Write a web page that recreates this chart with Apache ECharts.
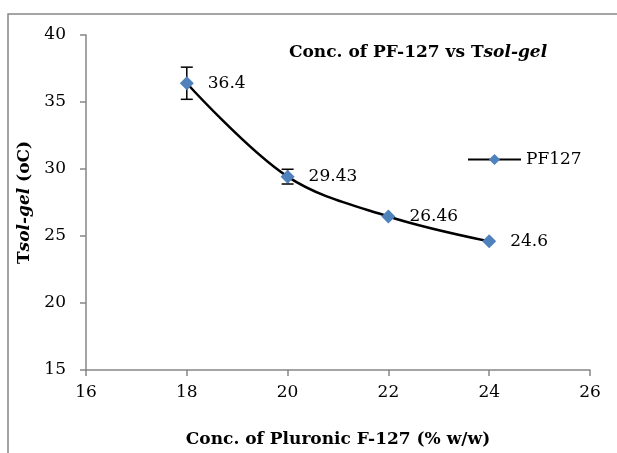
<!DOCTYPE html>
<html>
<head>
<meta charset="utf-8">
<script src="https://cdn.jsdelivr.net/npm/echarts@6/dist/echarts.min.js"></script>
<style>
  html, body { margin: 0; padding: 0; background: #fff; }
  #chart { width: 617px; height: 453px; }
</style>
</head>
<body>
<div id="chart"></div>
<script>
// data
var concs = [18, 20, 22, 24];
var tsolgel = [36.4, 29.43, 26.46, 24.6];
var errs = [1.2, 0.55, 0, 0];
var seriesName = 'PF127';

var points = concs.map(function (c, i) { return [c, tsolgel[i]]; });
var errData = concs.map(function (c, i) { return [c, tsolgel[i] - errs[i], tsolgel[i] + errs[i]]; });

var serif = '"DejaVu Serif", "Liberation Serif", serif';
var axisGrey = '#868686';
var boldRich = {
  b: { fontFamily: serif, fontWeight: 'bold', fontSize: 17, color: '#000' },
  i: { fontFamily: serif, fontWeight: 'bold', fontStyle: 'italic', fontSize: 17, color: '#000' }
};

var chart = echarts.init(document.getElementById('chart'));
chart.setOption({
  animation: false,
  textStyle: { fontFamily: serif },
  graphic: [{
    type: 'rect',
    shape: { x: 8, y: 14, width: 700, height: 500 },
    style: { fill: 'none', stroke: axisGrey, lineWidth: 1.5 },
    silent: true
  }],
  title: {
    text: '{b|Conc. of PF-127 vs T}{i|sol-gel}',
    left: 284, top: 39,
    textStyle: { rich: boldRich }
  },
  legend: {
    left: 462, top: 146,
    itemWidth: 53, itemHeight: 14, itemGap: 5,
    textStyle: { fontFamily: serif, fontSize: 17, color: '#000' },
    data: [seriesName]
  },
  grid: { left: 86, right: 27, top: 35, bottom: 78 },
  xAxis: {
    type: 'value', min: 16, max: 26, interval: 2,
    name: 'Conc. of Pluronic F-127 (% w/w)',
    nameLocation: 'middle', nameGap: 61,
    nameTextStyle: { fontFamily: serif, fontWeight: 'bold', fontSize: 17, color: '#000' },
    axisLine: { lineStyle: { color: axisGrey, width: 1.5 } },
    axisTick: { length: 6, lineStyle: { color: axisGrey, width: 1.5 } },
    axisLabel: { fontSize: 17, color: '#000', margin: 14 },
    splitLine: { show: false }
  },
  yAxis: {
    type: 'value', min: 15, max: 40, interval: 5,
    name: '{b|T}{i|sol-gel}{b| (oC)}',
    nameLocation: 'middle', nameGap: 53, nameRotate: 90,
    nameTextStyle: { rich: boldRich },
    axisLine: { show: true, lineStyle: { color: axisGrey, width: 1.5 } },
    axisTick: { show: true, length: 6, lineStyle: { color: axisGrey, width: 1.5 } },
    axisLabel: { fontSize: 17, color: '#000', margin: 20 },
    splitLine: { show: false }
  },
  series: [
    {
      name: seriesName,
      type: 'line',
      data: points,
      smooth: 0.35,
      symbol: 'diamond',
      symbolSize: 14,
      lineStyle: { color: '#000', width: 2.5 },
      itemStyle: { color: '#4F81BD' },
      label: {
        show: true, position: 'right', distance: 14,
        fontFamily: serif, fontSize: 17, color: '#000',
        formatter: function (p) { return String(p.value[1]); }
      },
      z: 3
    },
    {
      name: 'err',
      type: 'custom',
      data: errData,
      renderItem: function (params, api) {
        if (api.value(2) - api.value(1) <= 0) return null;
        var x = api.value(0);
        var lo = api.coord([x, api.value(1)]);
        var hi = api.coord([x, api.value(2)]);
        var hw = 6;
        var st = { stroke: '#000', lineWidth: 1.5 };
        return {
          type: 'group',
          children: [
            { type: 'line', shape: { x1: lo[0], y1: lo[1], x2: hi[0], y2: hi[1] }, style: st },
            { type: 'line', shape: { x1: lo[0] - hw, y1: lo[1], x2: lo[0] + hw, y2: lo[1] }, style: st },
            { type: 'line', shape: { x1: hi[0] - hw, y1: hi[1], x2: hi[0] + hw, y2: hi[1] }, style: st }
          ]
        };
      },
      z: 2
    }
  ]
});
</script>
</body>
</html>
